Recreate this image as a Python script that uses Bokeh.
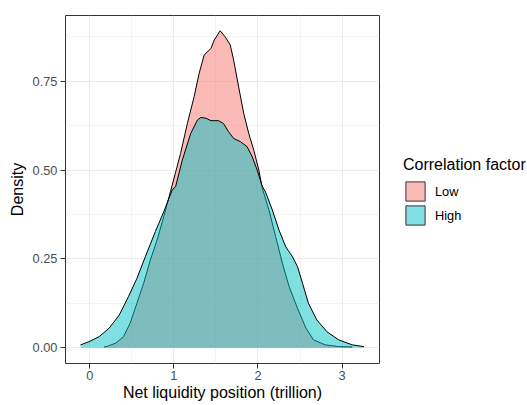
from bokeh.plotting import figure
from bokeh.layouts import row
from bokeh.models import (ColumnDataSource, Legend, LegendItem, FixedTicker,
                          Range1d, NumeralTickFormatter)
from bokeh.embed import file_html
from bokeh.resources import INLINE

# ---- data ----
groups = ["Low", "High"]
colors = ["#F8766D", "#00BFC4"]

low_x = [0.17, 0.21, 0.31, 0.40, 0.48, 0.56, 0.64, 0.72, 0.80, 0.88, 0.96, 1.08,
         1.16, 1.24, 1.30, 1.36, 1.44, 1.48, 1.55, 1.61, 1.67, 1.71, 1.77, 1.83,
         1.89, 1.95, 2.01, 2.05, 2.13, 2.21, 2.29, 2.37, 2.47, 2.57, 2.66, 2.80,
         2.96, 3.12]
low_y = [0.002, 0.004, 0.013, 0.031, 0.069, 0.125, 0.181, 0.247, 0.303, 0.369,
         0.440, 0.547, 0.631, 0.706, 0.772, 0.824, 0.842, 0.866, 0.892, 0.875,
         0.852, 0.810, 0.734, 0.660, 0.603, 0.556, 0.500, 0.450, 0.388, 0.313,
         0.238, 0.172, 0.111, 0.055, 0.022, 0.008, 0.003, 0.002]

high_x = [-0.11, -0.01, 0.11, 0.23, 0.35, 0.46, 0.56, 0.66, 0.78, 0.88, 0.98,
          1.02, 1.10, 1.20, 1.28, 1.32, 1.38, 1.44, 1.53, 1.59, 1.65, 1.71, 1.79,
          1.87, 1.93, 1.99, 2.05, 2.09, 2.17, 2.25, 2.33, 2.41, 2.47, 2.53, 2.60,
          2.70, 2.82, 2.96, 3.12, 3.26]
high_y = [0.008, 0.017, 0.031, 0.055, 0.092, 0.144, 0.195, 0.256, 0.327, 0.383,
          0.444, 0.453, 0.528, 0.603, 0.641, 0.648, 0.646, 0.639, 0.639, 0.631,
          0.608, 0.589, 0.580, 0.566, 0.538, 0.500, 0.455, 0.438, 0.388, 0.331,
          0.284, 0.256, 0.228, 0.181, 0.125, 0.078, 0.045, 0.022, 0.008, 0.003]

x_ticks = [0, 1, 2, 3]
x_minor = [0.5, 1.5, 2.5]
y_ticks = [0, 0.25, 0.5, 0.75]
y_minor = [0.125, 0.375, 0.625, 0.875]

FONT = "Liberation Sans"
TITLE_SIZE = "16px"
LABEL_SIZE = "12.8px"

p = figure(width=380, height=405, output_backend="svg", toolbar_location=None,
           x_range=Range1d(-0.289, 3.445), y_range=Range1d(-0.0445, 0.935),
           min_border_left=65, min_border_right=1, min_border_top=15,
           min_border_bottom=42,
           x_axis_label="Net liquidity position (trillion)",
           y_axis_label="Density")

p.background_fill_color = "white"
p.border_fill_color = "white"
p.outline_line_color = "#333333"
p.outline_line_width = 1

for g in (p.xgrid, p.ygrid):
    g.grid_line_color = "#EBEBEB"
    g.grid_line_width = 1.1
    g.minor_grid_line_color = "#EBEBEB"
    g.minor_grid_line_width = 0.6

p.xaxis.ticker = FixedTicker(ticks=x_ticks, minor_ticks=x_minor)
p.yaxis.ticker = FixedTicker(ticks=y_ticks, minor_ticks=y_minor)
p.yaxis.formatter = NumeralTickFormatter(format="0.00")

for ax in (p.xaxis, p.yaxis):
    ax.axis_line_color = None
    ax.major_tick_line_color = "#333333"
    ax.major_tick_out = 5
    ax.major_tick_in = 0
    ax.minor_tick_line_color = None
    ax.major_label_text_font = FONT
    ax.major_label_text_font_size = LABEL_SIZE
    ax.major_label_text_color = "#4D4D4D"
    ax.axis_label_text_font = FONT
    ax.axis_label_text_font_size = TITLE_SIZE
    ax.axis_label_text_font_style = "normal"
    ax.axis_label_text_color = "black"
p.xaxis.major_label_standoff = 2
p.xaxis.axis_label_standoff = 1
p.yaxis.major_label_standoff = 3
p.yaxis.axis_label_standoff = 4

series = [(low_x, low_y), (high_x, high_y)]
for name, col, (xs, ys) in zip(groups, colors, series):
    src = ColumnDataSource(dict(x=xs, y1=[0] * len(xs), y2=ys))
    p.varea(x="x", y1="y1", y2="y2", source=src, fill_color=col, fill_alpha=0.5)
    p.line(x="x", y="y2", source=src, line_color="black", line_width=1)

# ---- legend panel (separate figure, no axes) ----
p2 = figure(width=147, height=405, output_backend="svg", toolbar_location=None,
            min_border=0, x_axis_location=None, y_axis_location=None,
            x_range=Range1d(0, 1), y_range=Range1d(0, 1))
p2.outline_line_color = None
p2.grid.visible = False
p2.background_fill_color = "white"
p2.border_fill_color = "white"

legend_items = []
for name, col in zip(groups, colors):
    # key-only glyph, placed outside the visible range so only its legend swatch shows
    key = p2.quad(left=[5], right=[6], top=[6], bottom=[5], fill_color=col,
                  fill_alpha=0.5, line_color="#333333", line_width=1)
    legend_items.append(LegendItem(label=name, renderers=[key]))

legend = Legend(items=legend_items, title="Correlation factor",
                location=(23, 136), orientation="vertical")
legend.title_text_font = FONT
legend.title_text_font_size = TITLE_SIZE
legend.title_text_font_style = "normal"
legend.title_text_color = "black"
legend.title_standoff = 5
legend.label_text_font = FONT
legend.label_text_font_size = LABEL_SIZE
legend.label_text_color = "black"
legend.glyph_width = 24
legend.glyph_height = 24
legend.label_height = 24
legend.label_standoff = 8
legend.spacing = 0
legend.padding = 0
legend.margin = 0
legend.border_line_color = None
legend.background_fill_alpha = 0
p2.add_layout(legend, "center")

layout = row(p, p2, spacing=0)
open("out.html", "w").write(file_html(layout, INLINE))
